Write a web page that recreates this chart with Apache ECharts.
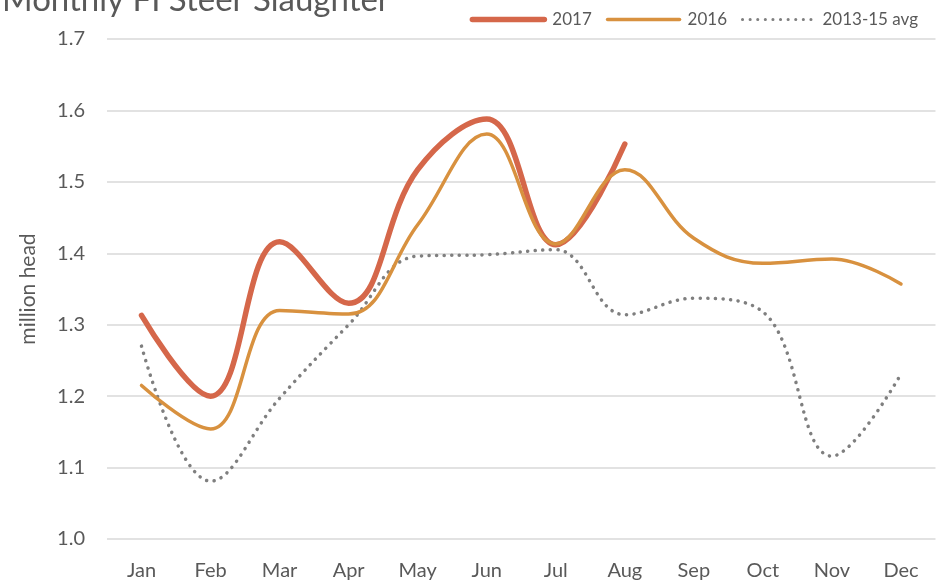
<!DOCTYPE html>
<html>
<head>
<meta charset="utf-8">
<script src="https://cdn.jsdelivr.net/npm/echarts@6/dist/echarts.min.js"></script>
<style>
  html, body { margin: 0; padding: 0; background: #fff; }
  #chart { width: 947px; height: 586px; }
</style>
</head>
<body>
<div id="chart"></div>
<script>
const months = ['Jan', 'Feb', 'Mar', 'Apr', 'May', 'Jun', 'Jul', 'Aug', 'Sep', 'Oct', 'Nov', 'Dec'];
const y2017 = [1.313, 1.200, 1.416, 1.330, 1.517, 1.588, 1.412, 1.553];
const y2016 = [1.215, 1.154, 1.320, 1.315, 1.440, 1.567, 1.413, 1.517, 1.421, 1.386, 1.392, 1.357];
const avg1315 = [1.270, 1.081, 1.197, 1.300, 1.396, 1.398, 1.405, 1.314, 1.337, 1.318, 1.116, 1.231];
const yTicks = ['1.0', '1.1', '1.2', '1.3', '1.4', '1.5', '1.6', '1.7'];

const font = 'Lato, "Open Sans", sans-serif';
const chart = echarts.init(document.getElementById('chart'));

chart.setOption({
    animation: false,
    textStyle: { fontFamily: font },
    title: {
        text: 'Monthly FI Steer Slaughter',
        left: -3,
        top: -21,
        textStyle: { fontSize: 33, fontWeight: 'normal', color: '#595959', fontFamily: font }
    },
    legend: {
        top: 6,
        right: 24,
        itemWidth: 72,
        itemHeight: 12,
        itemGap: 14,
        textStyle: { fontSize: 17, color: '#595959', padding: [0, 0, 0, 3] },
        itemStyle: { opacity: 0 },
        data: [
            { name: '2017', lineStyle: { width: 5.5, cap: 'round' } },
            { name: '2016', lineStyle: { width: 3.5, cap: 'round' } },
            { name: '2013-15 avg', lineStyle: { width: 3, type: [0.1, 7.5], cap: 'round' } }
        ]
    },
    grid: { left: 107, right: 11.5, top: 39, bottom: 47 },
    xAxis: {
        type: 'category',
        data: months,
        boundaryGap: true,
        axisLine: { show: false },
        axisTick: { show: false },
        axisLabel: { fontSize: 20, color: '#595959', margin: 22 }
    },
    yAxis: {
        type: 'value',
        min: 1.0,
        max: 1.7,
        interval: 0.1,
        name: 'million head',
        nameLocation: 'middle',
        nameGap: 68,
        nameTextStyle: { fontSize: 21, color: '#595959' },
        axisLabel: {
            fontSize: 20,
            color: '#595959',
            margin: 22,
            formatter: function (v) { return yTicks[Math.round((v - 1.0) * 10)]; }
        },
        splitLine: { lineStyle: { color: '#D9D9D9', width: 1.5 } }
    },
    series: [
        {
            name: '2013-15 avg',
            type: 'line',
            data: avg1315,
            smooth: 0.4,
            showSymbol: false,
            symbol: 'none',
            z: 1,
            lineStyle: { color: '#7F7F7F', width: 3.5, type: [0.1, 7.5], cap: 'round' },
            itemStyle: { color: '#7F7F7F' }
        },
        {
            name: '2016',
            type: 'line',
            data: y2016,
            smooth: 0.4,
            showSymbol: false,
            symbol: 'none',
            z: 3,
            lineStyle: { color: '#D8913F', width: 3.5, cap: 'round' },
            itemStyle: { color: '#D8913F' }
        },
        {
            name: '2017',
            type: 'line',
            data: y2017,
            smooth: 0.4,
            showSymbol: false,
            symbol: 'none',
            z: 2,
            lineStyle: { color: '#D5674A', width: 5.5, cap: 'round' },
            itemStyle: { color: '#D5674A' }
        }
    ]
});
</script>
</body>
</html>
